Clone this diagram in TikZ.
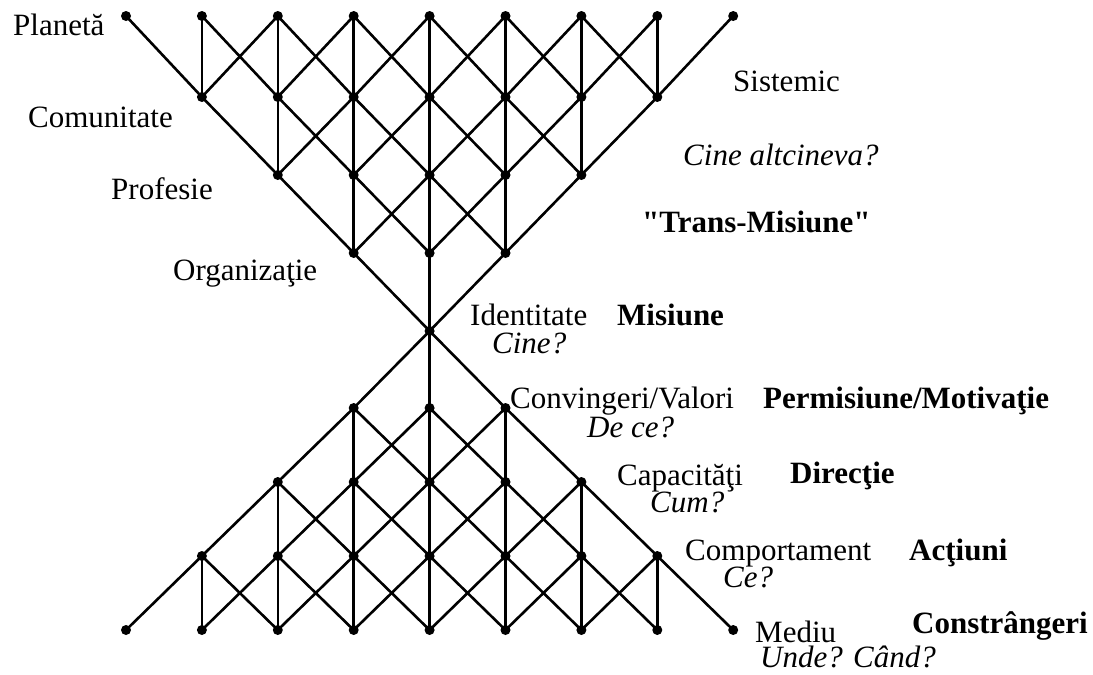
\documentclass[tikz,border=0pt]{standalone}
\usepackage{fontspec}
\setmainfont{Liberation Serif}[Ligatures=TeXOff]
\begin{document}
\begin{tikzpicture}[x=1pt,y=-1pt,
  dot/.style={circle, fill=black, inner sep=0pt, minimum size=10pt},
  edge/.style={line width=2.6pt},
  lab/.style={anchor=base west, inner sep=0pt, font=\fontsize{31}{37}\selectfont},
  labi/.style={anchor=base west, inner sep=0pt, font=\fontsize{31}{37}\selectfont\itshape},
  labb/.style={anchor=base west, inner sep=0pt, font=\fontsize{31}{37}\selectfont\bfseries}]
\useasboundingbox (0,0) rectangle (1093,675);
% dots
\foreach \r in {0,...,8} {
  \pgfmathtruncatemacro\ww{abs(4-\r)}
  \pgfmathtruncatemacro\cmin{4-\ww}
  \pgfmathtruncatemacro\cmax{4+\ww}
  \pgfmathsetmacro\yy{{16,97,175,253,331,408,482,556,630}[\r]}
  \foreach \c in {\cmin,...,\cmax} {
    \node[dot] (d\r-\c) at ({126+75.9*\c},\yy) {};
  }
}
% edges
\foreach \r in {0,...,7} {
  \pgfmathtruncatemacro\ww{abs(4-\r)}
  \pgfmathtruncatemacro\wn{abs(3-\r)}
  \pgfmathtruncatemacro\rn{\r+1}
  \pgfmathtruncatemacro\cmin{4-\ww}
  \pgfmathtruncatemacro\cmax{4+\ww}
  \foreach \c in {\cmin,...,\cmax} {
    \pgfmathtruncatemacro\dv{abs(\c-4)}
    \pgfmathtruncatemacro\dml{abs(\c-5)}
    \pgfmathtruncatemacro\dmr{abs(\c-3)}
    \pgfmathtruncatemacro\cL{\c-1}
    \pgfmathtruncatemacro\cR{\c+1}
    \ifnum\dv>\wn\else \draw[edge] (d\r-\c.center) -- (d\rn-\c.center); \fi
    \ifnum\dml>\wn\else \draw[edge] (d\r-\c.center) -- (d\rn-\cL.center); \fi
    \ifnum\dmr>\wn\else \draw[edge] (d\r-\c.center) -- (d\rn-\cR.center); \fi
  }
}
% left labels
\node[lab] (planeta) at (13,35) {Planetă};
\node[lab] (comunitate) at (28,127) {Comunitate};
\node[lab] (profesie) at (111,199) {Profesie};
\node[lab] (organizatie) at (173,280) {Organizaţie};
% right upper labels
\node[lab] (sistemic) at (733,91) {Sistemic};
\node[labi] (cinealt) at (683,165) {Cine altcineva?};
\node[labb] (trans) at (642,232) {"Trans-Misiune"};
% levels
\node[lab] (identitate) at (470,325) {Identitate};
\node[labb] (misiune) at (617,325) {Misiune};
\node[labi] (cine) at (492,353) {Cine?};
\node[lab] (conv) at (510,408) {Convingeri/Valori};
\node[labb] (perm) at (763,408) {Permisiune/Motivaţie};
\node[labi] (dece) at (587,437) {De ce?};
\node[lab] (capac) at (617,485) {Capacităţi};
\node[labb] (directie) at (790,483) {Direcţie};
\node[labi] (cum) at (650,512) {Cum?};
\node[lab] (comport) at (685,560) {Comportament};
\node[labb] (actiuni) at (909,560) {Acţiuni};
\node[labi] (ce) at (723,587) {Ce?};
\node[lab] (mediu) at (755,642) {Mediu};
\node[labb] (constr) at (912,633) {Constrângeri};
\node[labi] (unde) at (760,667) {Unde? Când?};
\end{tikzpicture}
\end{document}
